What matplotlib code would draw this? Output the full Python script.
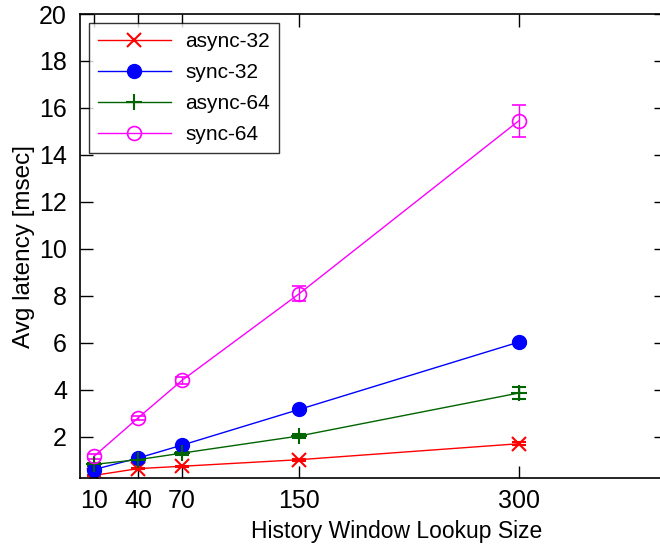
import matplotlib
matplotlib.use("Agg")
import matplotlib.pyplot as plt
from matplotlib.lines import Line2D

plt.rcParams['font.family'] = ['Liberation Sans', 'DejaVu Sans']

# History window lookup sizes
window = [10, 40, 70, 150, 300]

# Average latency (msec) and error for each configuration
async32 = [0.35, 0.64, 0.74, 1.02, 1.70]
async32_err = [0.03, 0.03, 0.03, 0.04, 0.06]
sync32 = [0.60, 1.09, 1.64, 3.16, 6.03]
sync32_err = [0.03, 0.03, 0.04, 0.06, 0.08]
async64 = [0.82, 1.02, 1.30, 2.03, 3.86]
async64_err = [0.05, 0.05, 0.06, 0.08, 0.25]
sync64 = [1.17, 2.80, 4.40, 8.09, 15.46]
sync64_err = [0.10, 0.10, 0.15, 0.33, 0.68]

names = ['async-32', 'sync-32', 'async-64', 'sync-64']
xticks = [10, 40, 70, 150, 300]
yticks = [2, 4, 6, 8, 10, 12, 14, 16, 18, 20]

fig = plt.figure(figsize=(6.6, 5.48), dpi=100)
ax = fig.add_axes([79.5 / 660, 70 / 548, 586 / 660, 464 / 548])

styles = [
    dict(color='#ff0000', marker='x', ms=10, mew=1.5),
    dict(color='#0000ff', marker='o', ms=10),
    dict(color='#006400', marker='+', ms=11, mew=1.5),
    dict(color='#ff00ff', marker='o', ms=10, mfc='none', mew=1.2),
]
series = [(async32, async32_err), (sync32, sync32_err),
          (async64, async64_err), (sync64, sync64_err)]

handles = []
for (vals, errs), st, name in zip(series, styles, names):
    ax.errorbar(window, vals, yerr=errs, lw=1, capsize=5, elinewidth=1,
                capthick=1, **st)
    handles.append(Line2D([], [], lw=1, **st))

ax.set_xlim(0, 400)
ax.set_ylim(0.24, 20)
ax.set_xticks(xticks)
ax.set_yticks(yticks)
ax.tick_params(direction='in', length=9, width=1, top=True, right=True,
               labelsize=18)
ax.tick_params(axis='y', pad=9)
ax.tick_params(axis='x', pad=8)
for s in ax.spines.values():
    s.set_linewidth(1.2)

ax.set_xlabel('History Window Lookup Size', fontsize=16.5, labelpad=5)
ax.xaxis.set_label_coords(0.542, -0.09)
ax.set_ylabel('Avg latency [msec]', fontsize=17.5, labelpad=3)

leg = ax.legend(handles, names, loc='upper left', fontsize=15, frameon=True,
                fancybox=False, edgecolor='black', handlelength=3.5,
                borderaxespad=0.45, labelspacing=0.58, borderpad=0.42,
                handletextpad=0.7)
leg.get_frame().set_linewidth(1)

fig.savefig('out.png', dpi=100)
